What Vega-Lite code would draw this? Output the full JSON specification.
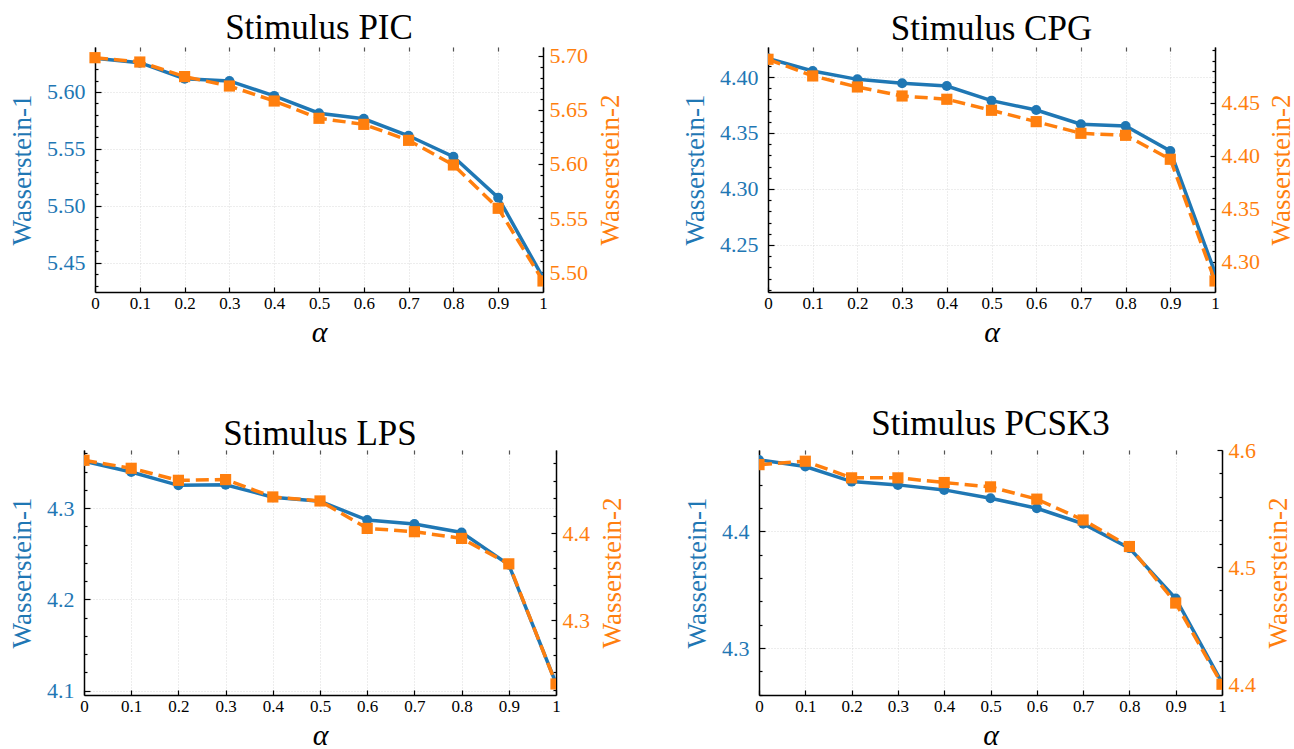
{
  "$schema": "https://vega.github.io/schema/vega-lite/v6.json",
  "background": "white",
  "padding": {"left": 8, "top": 10, "right": 0, "bottom": 0},
  "config": {
    "view": {"stroke": null},
    "font": "Liberation Serif",
    "title": {"font": "Liberation Serif", "fontSize": 35, "fontWeight": "normal", "color": "#000"},
    "style": {"guide-label": {"font": "Liberation Serif"}, "guide-title": {"font": "Liberation Serif"}},
    "axis": {
      "labelFont": "Liberation Serif", "titleFont": "Liberation Serif", "titleFontWeight": "normal",
      "domainColor": "#000", "domainWidth": 1.5, "tickColor": "#000", "tickWidth": 1.2,
      "labelFlush": false, "labelOverlap": false, "labelBound": false,
      "gridColor": "#d0d0d0", "gridDash": [1, 2], "gridWidth": 0.8
    }
  },
  "datasets": {
    "d": [
      {"panel": "PIC", "alpha": 0, "w1": 5.6295, "w2": 5.6984},
      {"panel": "PIC", "alpha": 0.1, "w1": 5.6256, "w2": 5.6944},
      {"panel": "PIC", "alpha": 0.2, "w1": 5.6116, "w2": 5.6809},
      {"panel": "PIC", "alpha": 0.3, "w1": 5.6096, "w2": 5.6722},
      {"panel": "PIC", "alpha": 0.4, "w1": 5.5965, "w2": 5.6583},
      {"panel": "PIC", "alpha": 0.5, "w1": 5.5813, "w2": 5.6423},
      {"panel": "PIC", "alpha": 0.6, "w1": 5.5764, "w2": 5.6367},
      {"panel": "PIC", "alpha": 0.7, "w1": 5.5615, "w2": 5.6219},
      {"panel": "PIC", "alpha": 0.8, "w1": 5.5431, "w2": 5.5991},
      {"panel": "PIC", "alpha": 0.9, "w1": 5.5072, "w2": 5.559},
      {"panel": "PIC", "alpha": 1, "w1": 5.4371, "w2": 5.4917},
      {"panel": "CPG", "alpha": 0, "w1": 4.4167, "w2": 4.4912},
      {"panel": "CPG", "alpha": 0.1, "w1": 4.4054, "w2": 4.4755},
      {"panel": "CPG", "alpha": 0.2, "w1": 4.3979, "w2": 4.4651},
      {"panel": "CPG", "alpha": 0.3, "w1": 4.3944, "w2": 4.4566},
      {"panel": "CPG", "alpha": 0.4, "w1": 4.392, "w2": 4.4535},
      {"panel": "CPG", "alpha": 0.5, "w1": 4.3789, "w2": 4.4431},
      {"panel": "CPG", "alpha": 0.6, "w1": 4.3705, "w2": 4.4324},
      {"panel": "CPG", "alpha": 0.7, "w1": 4.3578, "w2": 4.4214},
      {"panel": "CPG", "alpha": 0.8, "w1": 4.3563, "w2": 4.4195},
      {"panel": "CPG", "alpha": 0.9, "w1": 4.3339, "w2": 4.3969},
      {"panel": "CPG", "alpha": 1, "w1": 4.2253, "w2": 4.2821},
      {"panel": "LPS", "alpha": 0, "w1": 4.3512, "w2": 4.4836},
      {"panel": "LPS", "alpha": 0.1, "w1": 4.3395, "w2": 4.4744},
      {"panel": "LPS", "alpha": 0.2, "w1": 4.3249, "w2": 4.4606},
      {"panel": "LPS", "alpha": 0.3, "w1": 4.3256, "w2": 4.4614},
      {"panel": "LPS", "alpha": 0.4, "w1": 4.3118, "w2": 4.4415},
      {"panel": "LPS", "alpha": 0.5, "w1": 4.3074, "w2": 4.4369},
      {"panel": "LPS", "alpha": 0.6, "w1": 4.2869, "w2": 4.4054},
      {"panel": "LPS", "alpha": 0.7, "w1": 4.2825, "w2": 4.4016},
      {"panel": "LPS", "alpha": 0.8, "w1": 4.2733, "w2": 4.3939},
      {"panel": "LPS", "alpha": 0.9, "w1": 4.2378, "w2": 4.3647},
      {"panel": "LPS", "alpha": 1, "w1": 4.108, "w2": 4.2268},
      {"panel": "PCSK3", "alpha": 0, "w1": 4.4613, "w2": 4.5875},
      {"panel": "PCSK3", "alpha": 0.1, "w1": 4.4556, "w2": 4.5904},
      {"panel": "PCSK3", "alpha": 0.2, "w1": 4.4427, "w2": 4.5762},
      {"panel": "PCSK3", "alpha": 0.3, "w1": 4.4399, "w2": 4.5762},
      {"panel": "PCSK3", "alpha": 0.4, "w1": 4.4356, "w2": 4.5722},
      {"panel": "PCSK3", "alpha": 0.5, "w1": 4.4285, "w2": 4.5685},
      {"panel": "PCSK3", "alpha": 0.6, "w1": 4.4199, "w2": 4.558},
      {"panel": "PCSK3", "alpha": 0.7, "w1": 4.4066, "w2": 4.5402},
      {"panel": "PCSK3", "alpha": 0.8, "w1": 4.3857, "w2": 4.5175},
      {"panel": "PCSK3", "alpha": 0.9, "w1": 4.3425, "w2": 4.4692},
      {"panel": "PCSK3", "alpha": 1, "w1": 4.2703, "w2": 4.3998}
    ]
  },
  "data": {"name": "d"},
  "spacing": 60,
  "vconcat": [
    {
      "spacing": 57,
      "hconcat": [
        {
          "width": 459, "height": 245,
          "title": {"text": "Stimulus PIC", "offset": -1, "dx": 5.5},
          "transform": [{"filter": "datum.panel === 'PIC'"}],
          "layer": [
            {
              "layer": [
                {
                  "mark": {"type": "line", "color": "#1f77b4", "strokeWidth": 3.5, "clip": true},
                  "encoding": {
                    "x": {"field": "alpha", "type": "quantitative", "scale": {"domain": [0, 1], "range": [11, 459]},
                      "axis": {"orient": "bottom", "values": [0, 0.1, 0.2, 0.3, 0.4, 0.5, 0.6, 0.7, 0.8, 0.9, 1], "format": "~g", "grid": true, "tickSize": -5, "labelPadding": 8, "labelFont": "Liberation Serif", "labelFontSize": 17, "labelColor": "#000", "title": "α", "titleFont": "Liberation Serif", "titleFontSize": 30, "titleFontStyle": "italic", "titlePadding": 6, "titleColor": "#000"}},
                    "y": {"field": "w1", "type": "quantitative", "scale": {"domain": [5.4244, 5.6394], "zero": false, "nice": false},
                      "axis": {"orient": "left", "offset": -11, "values": [5.45, 5.5, 5.55, 5.6], "format": ".2f", "grid": true, "tickSize": -6, "labelPadding": 16, "labelFont": "Liberation Serif", "labelFontSize": 22, "labelColor": "#1f77b4", "title": "Wasserstein-1", "titleFont": "Liberation Serif", "titleFontSize": 27, "titleColor": "#1f77b4", "titlePadding": 10}}
                  }
                },
                {
                  "mark": {"type": "point", "shape": "circle", "filled": true, "opacity": 1, "size": 100, "color": "#1f77b4", "clip": true},
                  "encoding": {
                    "x": {"field": "alpha", "type": "quantitative", "scale": {"domain": [0, 1], "range": [11, 459]},
                      "axis": {"orient": "top", "values": [0, 0.1, 0.2, 0.3, 0.4, 0.5, 0.6, 0.7, 0.8, 0.9, 1], "labels": false, "domain": false, "grid": false, "tickSize": -4, "tickColor": "#555", "title": null}},
                    "y": {"field": "w1", "type": "quantitative", "scale": {"domain": [5.4244, 5.6394], "zero": false, "nice": false},
                      "axis": {"orient": "left", "offset": -11, "values": [5.43, 5.44, 5.46, 5.47, 5.48, 5.49, 5.51, 5.52, 5.53, 5.54, 5.56, 5.57, 5.58, 5.59, 5.61, 5.62, 5.63], "labels": false, "domain": false, "grid": false, "tickSize": -3, "title": null}}
                  }
                }
              ],
              "resolve": {"axis": {"x": "independent", "y": "independent"}}
            },
            {
              "layer": [
                {
                  "mark": {"type": "line", "color": "#ff7f0e", "strokeWidth": 3.5, "strokeDash": [13, 6], "clip": true},
                  "encoding": {
                    "x": {"field": "alpha", "type": "quantitative", "scale": {"domain": [0, 1], "range": [11, 459]}, "axis": null},
                    "y": {"field": "w2", "type": "quantitative", "scale": {"domain": [5.4815, 5.7083], "zero": false, "nice": false},
                      "axis": {"orient": "right", "values": [5.5, 5.55, 5.6, 5.65, 5.7], "format": ".2f", "grid": false, "tickSize": -5, "labelPadding": 11, "labelFont": "Liberation Serif", "labelFontSize": 22, "labelColor": "#ff7f0e", "title": "Wasserstein-2", "titleFont": "Liberation Serif", "titleFontSize": 27, "titleColor": "#ff7f0e", "titlePadding": 10, "titleAngle": 270, "titleBaseline": "top"}}
                  }
                },
                {
                  "mark": {"type": "square", "filled": true, "opacity": 1, "size": 125, "color": "#ff7f0e", "clip": true},
                  "encoding": {
                    "x": {"field": "alpha", "type": "quantitative", "scale": {"domain": [0, 1], "range": [11, 459]}, "axis": null},
                    "y": {"field": "w2", "type": "quantitative", "scale": {"domain": [5.4815, 5.7083], "zero": false, "nice": false},
                      "axis": {"orient": "right", "values": [5.49, 5.51, 5.52, 5.53, 5.54, 5.56, 5.57, 5.58, 5.59, 5.61, 5.62, 5.63, 5.64, 5.66, 5.67, 5.68, 5.69], "labels": false, "domain": false, "grid": false, "tickSize": -3, "title": null}}
                  }
                }
              ],
              "resolve": {"axis": {"y": "independent"}}
            }
          ],
          "resolve": {"scale": {"y": "independent"}, "axis": {"x": "independent"}}
        },
        {
          "width": 447, "height": 245,
          "title": {"text": "Stimulus CPG", "offset": -1},
          "transform": [{"filter": "datum.panel === 'CPG'"}],
          "layer": [
            {
              "layer": [
                {
                  "mark": {"type": "line", "color": "#1f77b4", "strokeWidth": 3.5, "clip": true},
                  "encoding": {
                    "x": {"field": "alpha", "type": "quantitative", "scale": {"domain": [0, 1]},
                      "axis": {"orient": "bottom", "values": [0, 0.1, 0.2, 0.3, 0.4, 0.5, 0.6, 0.7, 0.8, 0.9, 1], "format": "~g", "grid": true, "tickSize": -5, "labelPadding": 8, "labelFont": "Liberation Serif", "labelFontSize": 17, "labelColor": "#000", "title": "α", "titleFont": "Liberation Serif", "titleFontSize": 30, "titleFontStyle": "italic", "titlePadding": 6, "titleColor": "#000"}},
                    "y": {"field": "w1", "type": "quantitative", "scale": {"domain": [4.208, 4.4268], "zero": false, "nice": false},
                      "axis": {"orient": "left", "values": [4.25, 4.3, 4.35, 4.4], "format": ".2f", "grid": true, "tickSize": -6, "labelPadding": 16, "labelFont": "Liberation Serif", "labelFontSize": 22, "labelColor": "#1f77b4", "title": "Wasserstein-1", "titleFont": "Liberation Serif", "titleFontSize": 27, "titleColor": "#1f77b4", "titlePadding": 10}}
                  }
                },
                {
                  "mark": {"type": "point", "shape": "circle", "filled": true, "opacity": 1, "size": 100, "color": "#1f77b4", "clip": true},
                  "encoding": {
                    "x": {"field": "alpha", "type": "quantitative", "scale": {"domain": [0, 1]},
                      "axis": {"orient": "top", "values": [0, 0.1, 0.2, 0.3, 0.4, 0.5, 0.6, 0.7, 0.8, 0.9, 1], "labels": false, "domain": false, "grid": false, "tickSize": -4, "tickColor": "#555", "title": null}},
                    "y": {"field": "w1", "type": "quantitative", "scale": {"domain": [4.208, 4.4268], "zero": false, "nice": false},
                      "axis": {"orient": "left", "values": [4.21, 4.22, 4.23, 4.24, 4.26, 4.27, 4.28, 4.29, 4.31, 4.32, 4.33, 4.34, 4.36, 4.37, 4.38, 4.39, 4.41, 4.42], "labels": false, "domain": false, "grid": false, "tickSize": -3, "title": null}}
                  }
                }
              ],
              "resolve": {"axis": {"x": "independent", "y": "independent"}}
            },
            {
              "layer": [
                {
                  "mark": {"type": "line", "color": "#ff7f0e", "strokeWidth": 3.5, "strokeDash": [13, 6], "clip": true},
                  "encoding": {
                    "x": {"field": "alpha", "type": "quantitative", "scale": {"domain": [0, 1]}, "axis": null},
                    "y": {"field": "w2", "type": "quantitative", "scale": {"domain": [4.2717, 4.5028], "zero": false, "nice": false},
                      "axis": {"orient": "right", "values": [4.3, 4.35, 4.4, 4.45], "format": ".2f", "grid": false, "tickSize": -5, "labelPadding": 11, "labelFont": "Liberation Serif", "labelFontSize": 22, "labelColor": "#ff7f0e", "title": "Wasserstein-2", "titleFont": "Liberation Serif", "titleFontSize": 27, "titleColor": "#ff7f0e", "titlePadding": 9, "titleAngle": 270, "titleBaseline": "top"}}
                  }
                },
                {
                  "mark": {"type": "square", "filled": true, "opacity": 1, "size": 125, "color": "#ff7f0e", "clip": true},
                  "encoding": {
                    "x": {"field": "alpha", "type": "quantitative", "scale": {"domain": [0, 1]}, "axis": null},
                    "y": {"field": "w2", "type": "quantitative", "scale": {"domain": [4.2717, 4.5028], "zero": false, "nice": false},
                      "axis": {"orient": "right", "values": [4.28, 4.29, 4.31, 4.32, 4.33, 4.34, 4.36, 4.37, 4.38, 4.39, 4.41, 4.42, 4.43, 4.44, 4.46, 4.47, 4.48, 4.49, 4.5], "labels": false, "domain": false, "grid": false, "tickSize": -3, "title": null}}
                  }
                }
              ],
              "resolve": {"axis": {"y": "independent"}}
            }
          ],
          "resolve": {"scale": {"y": "independent"}, "axis": {"x": "independent"}}
        }
      ]
    },
    {
      "spacing": 57,
      "hconcat": [
        {
          "width": 472, "height": 245,
          "title": {"text": "Stimulus LPS", "offset": -3},
          "transform": [{"filter": "datum.panel === 'LPS'"}],
          "layer": [
            {
              "layer": [
                {
                  "mark": {"type": "line", "color": "#1f77b4", "strokeWidth": 3.5, "clip": true},
                  "encoding": {
                    "x": {"field": "alpha", "type": "quantitative", "scale": {"domain": [0, 1]},
                      "axis": {"orient": "bottom", "values": [0, 0.1, 0.2, 0.3, 0.4, 0.5, 0.6, 0.7, 0.8, 0.9, 1], "format": "~g", "grid": true, "tickSize": -5, "labelPadding": 8, "labelFont": "Liberation Serif", "labelFontSize": 17, "labelColor": "#000", "title": "α", "titleFont": "Liberation Serif", "titleFontSize": 30, "titleFontStyle": "italic", "titlePadding": 6, "titleColor": "#000"}},
                    "y": {"field": "w1", "type": "quantitative", "scale": {"domain": [4.0952, 4.3636], "zero": false, "nice": false},
                      "axis": {"orient": "left", "values": [4.1, 4.2, 4.3], "format": ".1f", "grid": true, "tickSize": -6, "labelPadding": 16, "labelFont": "Liberation Serif", "labelFontSize": 22, "labelColor": "#1f77b4", "title": "Wasserstein-1", "titleFont": "Liberation Serif", "titleFontSize": 27, "titleColor": "#1f77b4", "titlePadding": 10}}
                  }
                },
                {
                  "mark": {"type": "point", "shape": "circle", "filled": true, "opacity": 1, "size": 100, "color": "#1f77b4", "clip": true},
                  "encoding": {
                    "x": {"field": "alpha", "type": "quantitative", "scale": {"domain": [0, 1]},
                      "axis": {"orient": "top", "values": [0, 0.1, 0.2, 0.3, 0.4, 0.5, 0.6, 0.7, 0.8, 0.9, 1], "labels": false, "domain": false, "grid": false, "tickSize": -4, "tickColor": "#555", "title": null}},
                    "y": {"field": "w1", "type": "quantitative", "scale": {"domain": [4.0952, 4.3636], "zero": false, "nice": false},
                      "axis": {"orient": "left", "values": [4.12, 4.14, 4.16, 4.18, 4.22, 4.24, 4.26, 4.28, 4.32, 4.34, 4.36], "labels": false, "domain": false, "grid": false, "tickSize": -3, "title": null}}
                  }
                }
              ],
              "resolve": {"axis": {"x": "independent", "y": "independent"}}
            },
            {
              "layer": [
                {
                  "mark": {"type": "line", "color": "#ff7f0e", "strokeWidth": 3.5, "strokeDash": [13, 6], "clip": true},
                  "encoding": {
                    "x": {"field": "alpha", "type": "quantitative", "scale": {"domain": [0, 1]}, "axis": null},
                    "y": {"field": "w2", "type": "quantitative", "scale": {"domain": [4.2141, 4.4954], "zero": false, "nice": false},
                      "axis": {"orient": "right", "values": [4.3, 4.4], "format": ".1f", "grid": false, "tickSize": -5, "labelPadding": 11, "labelFont": "Liberation Serif", "labelFontSize": 22, "labelColor": "#ff7f0e", "title": "Wasserstein-2", "titleFont": "Liberation Serif", "titleFontSize": 27, "titleColor": "#ff7f0e", "titlePadding": 10, "titleAngle": 270, "titleBaseline": "top"}}
                  }
                },
                {
                  "mark": {"type": "square", "filled": true, "opacity": 1, "size": 125, "color": "#ff7f0e", "clip": true},
                  "encoding": {
                    "x": {"field": "alpha", "type": "quantitative", "scale": {"domain": [0, 1]}, "axis": null},
                    "y": {"field": "w2", "type": "quantitative", "scale": {"domain": [4.2141, 4.4954], "zero": false, "nice": false},
                      "axis": {"orient": "right", "values": [4.22, 4.24, 4.26, 4.28, 4.32, 4.34, 4.36, 4.38, 4.42, 4.44, 4.46, 4.48], "labels": false, "domain": false, "grid": false, "tickSize": -3, "title": null}}
                  }
                }
              ],
              "resolve": {"axis": {"y": "independent"}}
            }
          ],
          "resolve": {"scale": {"y": "independent"}, "axis": {"x": "independent"}}
        },
        {
          "width": 463, "height": 245,
          "title": {"text": "Stimulus PCSK3", "offset": -3},
          "transform": [{"filter": "datum.panel === 'PCSK3'"}],
          "layer": [
            {
              "layer": [
                {
                  "mark": {"type": "line", "color": "#1f77b4", "strokeWidth": 3.5, "clip": true},
                  "encoding": {
                    "x": {"field": "alpha", "type": "quantitative", "scale": {"domain": [0, 1]},
                      "axis": {"orient": "bottom", "values": [0, 0.1, 0.2, 0.3, 0.4, 0.5, 0.6, 0.7, 0.8, 0.9, 1], "format": "~g", "grid": true, "tickSize": -5, "labelPadding": 8, "labelFont": "Liberation Serif", "labelFontSize": 17, "labelColor": "#000", "title": "α", "titleFont": "Liberation Serif", "titleFontSize": 30, "titleFontStyle": "italic", "titlePadding": 6, "titleColor": "#000"}},
                    "y": {"field": "w1", "type": "quantitative", "scale": {"domain": [4.2598, 4.4698], "zero": false, "nice": false},
                      "axis": {"orient": "left", "values": [4.3, 4.4], "format": ".1f", "grid": true, "tickSize": -6, "labelPadding": 16, "labelFont": "Liberation Serif", "labelFontSize": 22, "labelColor": "#1f77b4", "title": "Wasserstein-1", "titleFont": "Liberation Serif", "titleFontSize": 27, "titleColor": "#1f77b4", "titlePadding": 10}}
                  }
                },
                {
                  "mark": {"type": "point", "shape": "circle", "filled": true, "opacity": 1, "size": 100, "color": "#1f77b4", "clip": true},
                  "encoding": {
                    "x": {"field": "alpha", "type": "quantitative", "scale": {"domain": [0, 1]},
                      "axis": {"orient": "top", "values": [0, 0.1, 0.2, 0.3, 0.4, 0.5, 0.6, 0.7, 0.8, 0.9, 1], "labels": false, "domain": false, "grid": false, "tickSize": -4, "tickColor": "#555", "title": null}},
                    "y": {"field": "w1", "type": "quantitative", "scale": {"domain": [4.2598, 4.4698], "zero": false, "nice": false},
                      "axis": {"orient": "left", "values": [4.26, 4.28, 4.32, 4.34, 4.36, 4.38, 4.42, 4.44, 4.46], "labels": false, "domain": false, "grid": false, "tickSize": -3, "title": null}}
                  }
                }
              ],
              "resolve": {"axis": {"x": "independent", "y": "independent"}}
            },
            {
              "layer": [
                {
                  "mark": {"type": "line", "color": "#ff7f0e", "strokeWidth": 3.5, "strokeDash": [13, 6], "clip": true},
                  "encoding": {
                    "x": {"field": "alpha", "type": "quantitative", "scale": {"domain": [0, 1]}, "axis": null},
                    "y": {"field": "w2", "type": "quantitative", "scale": {"domain": [4.3906, 4.6], "zero": false, "nice": false},
                      "axis": {"orient": "right", "values": [4.4, 4.5, 4.6], "format": ".1f", "grid": false, "tickSize": -5, "labelPadding": 11, "labelFont": "Liberation Serif", "labelFontSize": 22, "labelColor": "#ff7f0e", "title": "Wasserstein-2", "titleFont": "Liberation Serif", "titleFontSize": 27, "titleColor": "#ff7f0e", "titlePadding": 10, "titleAngle": 270, "titleBaseline": "top"}}
                  }
                },
                {
                  "mark": {"type": "square", "filled": true, "opacity": 1, "size": 125, "color": "#ff7f0e", "clip": true},
                  "encoding": {
                    "x": {"field": "alpha", "type": "quantitative", "scale": {"domain": [0, 1]}, "axis": null},
                    "y": {"field": "w2", "type": "quantitative", "scale": {"domain": [4.3906, 4.6], "zero": false, "nice": false},
                      "axis": {"orient": "right", "values": [4.42, 4.44, 4.46, 4.48, 4.52, 4.54, 4.56, 4.58], "labels": false, "domain": false, "grid": false, "tickSize": -3, "title": null}}
                  }
                }
              ],
              "resolve": {"axis": {"y": "independent"}}
            }
          ],
          "resolve": {"scale": {"y": "independent"}, "axis": {"x": "independent"}}
        }
      ]
    }
  ]
}
